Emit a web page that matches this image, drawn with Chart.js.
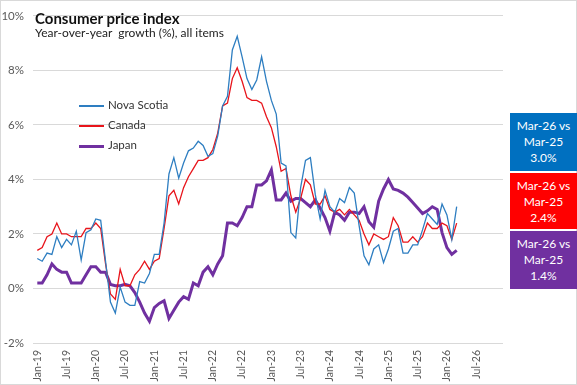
<!DOCTYPE html>
<html>
<head>
<meta charset="utf-8">
<script src="https://cdn.jsdelivr.net/npm/chart.js@4.4.1/dist/chart.umd.min.js"></script>
<style>
  body { margin: 0; background: #fff; }
  #wrap { position: relative; width: 577px; height: 385px; font-family: "Lato", sans-serif; }
  #frame { position: absolute; left: 0; top: 0; width: 577px; height: 385px; box-sizing: border-box; border: 1px solid #d9d9d9; pointer-events: none; }
  canvas { position: absolute; left: 0; top: 0; }
  .title { position: absolute; left: 35px; top: 9px; font-size: 15px; font-weight: bold; color: #111; }
  .sub { position: absolute; left: 35px; top: 25px; font-size: 12px; color: #222; white-space: pre; }
  .legend { position: absolute; left: 79px; font-size: 11.5px; color: #333; line-height: 14px; }
  .legend span.sw { display: inline-block; width: 25px; vertical-align: middle; margin-right: 4px; }
  .box { position: absolute; left: 510px; width: 67px; color: #fff; font-size: 12px; line-height: 16px; text-align: center; box-sizing: border-box; padding-top: 5px; }
</style>
</head>
<body>
<div id="wrap">
  <canvas id="cpi" width="577" height="385"></canvas>
  <div id="frame"></div>
  <div class="title">Consumer price index</div>
  <div class="sub">Year-over-year  growth (%), all items</div>
  <div class="legend" style="top:98px"><span class="sw" style="height:1.5px;background:#2E7EC1"></span>Nova Scotia</div>
  <div class="legend" style="top:118px"><span class="sw" style="height:1.5px;background:#E8141B"></span>Canada</div>
  <div class="legend" style="top:138px"><span class="sw" style="height:3px;background:#7030A0"></span>Japan</div>
  <div class="box" style="top:113px;height:58px;background:#0070C0">Mar-26 vs<br>Mar-25<br>3.0%</div>
  <div class="box" style="top:173px;height:56px;background:#FF0000">Mar-26 vs<br>Mar-25<br>2.4%</div>
  <div class="box" style="top:231px;height:58px;background:#7030A0">Mar-26 vs<br>Mar-25<br>1.4%</div>
</div>
<script>
// monthly, Jan-19 .. Mar-26
const monthNames = ["Jan","Feb","Mar","Apr","May","Jun","Jul","Aug","Sep","Oct","Nov","Dec"];
const months = [];
for (let y = 19; y <= 26; y++) {
  monthNames.forEach(m => months.push(m + "-" + y));
}

const tickLabels = ["Jan-19","Jul-19","Jan-20","Jul-20","Jan-21","Jul-21","Jan-22","Jul-22",
  "Jan-23","Jul-23","Jan-24","Jul-24","Jan-25","Jul-25","Jan-26","Jul-26"];

const novaScotia = [
  1.1, 1.0, 1.3, 1.25, 1.9, 1.5, 1.8, 1.6, 2.1, 1.05, 2.05, 2.15,
  2.55, 2.5, 1.0, -0.5, -0.9, 0.05, -0.5, -0.62, -0.62, 0.25, 0.2, 0.55,
  1.25, 1.25, 2.4, 4.2, 4.8, 4.05, 4.6, 5.05, 5.15, 5.4, 5.25, 4.85,
  4.95, 5.6, 6.7, 7.05, 8.75, 9.25, 8.5, 7.7, 7.3, 7.65, 8.5, 7.6,
  6.9, 6.4, 4.6, 4.5, 2.05, 1.85, 3.7, 4.7, 4.8, 3.45, 2.55, 3.6,
  3.0, 2.8, 3.3, 3.15, 3.7, 3.5, 2.3, 1.2, 0.87, 1.45, 1.6, 0.95,
  1.45, 2.1, 2.2, 1.3, 1.3, 1.6, 1.6, 2.15, 2.75, 2.55, 2.35, 3.1,
  2.7, 1.8, 3.0
];

const canada = [
  1.4, 1.5, 1.9, 2.0, 2.4, 2.0, 2.0, 1.9, 1.9, 1.9, 2.2, 2.2,
  2.4, 2.2, 0.9, -0.2, -0.4, 0.7, 0.1, 0.1, 0.5, 0.7, 1.0, 0.7,
  1.0, 1.1, 2.2, 3.4, 3.6, 3.1, 3.7, 4.1, 4.4, 4.7, 4.7, 4.8,
  5.1, 5.7, 6.7, 6.8, 7.7, 8.1, 7.6, 7.0, 6.9, 6.9, 6.8, 6.3,
  5.9, 5.2, 4.3, 4.4, 3.4, 2.8, 3.3, 4.0, 3.8, 3.1, 3.1, 3.4,
  2.9, 2.8, 2.9, 2.7, 2.9, 2.7, 2.5, 2.0, 1.6, 2.0, 1.9, 1.8,
  1.9, 2.6, 2.3, 1.7, 1.7, 1.9, 1.7, 1.9, 2.4, 2.2, 2.2, 2.4,
  2.3, 1.8, 2.4
];

const japan = [
  0.2, 0.2, 0.5, 0.9, 0.7, 0.6, 0.6, 0.2, 0.2, 0.2, 0.5, 0.8,
  0.8, 0.6, 0.6, 0.15, 0.1, 0.1, 0.15, 0.1, -0.15, -0.5, -0.9, -1.2,
  -0.7, -0.55, -0.45, -1.1, -0.8, -0.5, -0.3, -0.4, 0.2, 0.1, 0.6, 0.8,
  0.5, 0.9, 1.2, 2.4, 2.4, 2.3, 2.6, 3.0, 3.0, 3.8, 3.8, 3.95,
  4.35, 3.25, 3.25, 3.5, 3.2, 3.3, 3.3, 3.15, 3.0, 3.25, 2.95, 2.6,
  2.1, 2.8, 2.7, 2.5, 2.8, 2.8, 2.75, 3.0, 2.45, 2.25, 3.2, 3.65,
  4.0, 3.65, 3.6, 3.5, 3.35, 3.15, 2.95, 2.75, 2.85, 3.0, 2.9, 2.05,
  1.5, 1.25, 1.4
];

const toPoints = arr => arr.map((v, i) => ({ x: i, y: v }));

const ctx = document.getElementById("cpi").getContext("2d");
new Chart(ctx, {
  type: "line",
  data: {
    datasets: [
      { label: "Nova Scotia", data: toPoints(novaScotia), borderColor: "#2E7EC1", borderWidth: 1.3, pointRadius: 0, tension: 0 },
      { label: "Canada", data: toPoints(canada), borderColor: "#E8141B", borderWidth: 1.3, pointRadius: 0, tension: 0 },
      { label: "Japan", data: toPoints(japan), borderColor: "#7030A0", borderWidth: 3, pointRadius: 0, tension: 0 }
    ]
  },
  options: {
    responsive: false,
    animation: false,
    layout: { padding: { left: 0, right: 74, top: 7, bottom: 0 } },
    plugins: { legend: { display: false }, tooltip: { enabled: false } },
    scales: {
      x: {
        type: "linear",
        min: -0.88,
        max: 95.5,
        grid: { display: false, drawTicks: false },
        border: { display: false },
        afterBuildTicks: scale => {
          scale.ticks = tickLabels.map((_, k) => ({ value: k * 6 }));
        },
        afterFit: scale => { scale.height = 42; },
        ticks: {
          autoSkip: false,
          minRotation: 90,
          maxRotation: 90,
          padding: 7,
          color: "#595959",
          font: { family: "Lato", size: 10.5 },
          callback: (v, i) => tickLabels[i]
        }
      },
      y: {
        min: -2,
        max: 10,
        grid: { color: "#d9d9d9", drawTicks: false },
        border: { display: false },
        afterFit: scale => { scale.width = 33; },
        ticks: {
          stepSize: 2,
          padding: 9,
          color: "#595959",
          font: { family: "Lato", size: 11.5 },
          callback: v => v + "%"
        }
      }
    }
  }
});
</script>
</body>
</html>
